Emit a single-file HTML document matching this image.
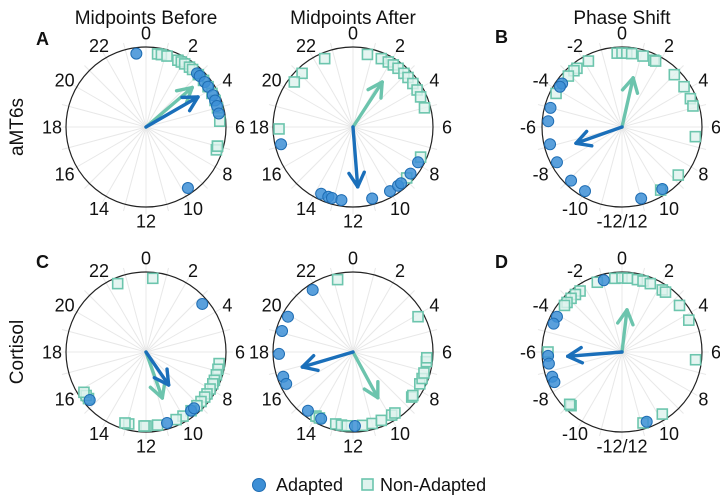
<!DOCTYPE html>
<html><head><meta charset="utf-8"><style>
body{margin:0;background:#fff;}
svg{display:block;font-family:"Liberation Sans",sans-serif;}
</style></head><body>
<svg id="chart" width="720" height="499" viewBox="0 0 720 499"></svg>
<script>
// ---- data (hours) ----
const beforeMT_adapted=[23.5,2.9,3.1,3.5,3.8,4.3,4.6,4.9,5.3,9.7];
const beforeMT_non=[0.6,0.8,1.1,1.7,1.9,2.1,2.4,2.6,3.0,3.4,3.8,4.2,4.6,5.0,5.7,7.0,7.2,7.0];
const afterMT_adapted=[17.1,13.7,13.3,13.1,12.6,11.0,10.0,9.5,9.3,8.6,7.9];
const afterMT_non=[22.5,21.1,20.5,17.9,0.75,1.5,1.9,2.2,2.5,2.9,3.2,3.6,4.0,4.4,5.0,7.6,8.9];
const shiftMT_adapted=[-3.6,-3.8,-5.0,-5.7,-6.9,-7.9,-9.1,-10.0,11.0,9.8];
const shiftMT_non=[-0.25,0,0.25,0.5,1.1,1.7,1.8,3.0,3.8,4.5,4.9,6.5,8.7,9.9,-1.8,-2.5,-2.7,-3.1,-4.2];
const beforeCO_adapted=[3.3,9.5,9.3,10.9,15.3];
const beforeCO_non=[22.5,0.35,6.6,6.9,7.2,7.5,7.7,8.0,8.3,8.5,8.8,9.1,9.5,10.0,10.4,11.4,12.0,12.1,12.9,13.1,15.4,15.6,15.8];
const afterCO_adapted=[21.8,19.9,19.1,17.9,16.7,16.3,14.5,13.7,11.9];
const afterCO_non=[23.2,14.0,13.8,12.9,12.6,12.3,11.5,11.0,10.5,9.9,9.7,8.5,8.4,7.7,7.4,7.1,6.5,6.3,4.1];
const shiftCO_adapted=[-0.95,-4.1,-4.5,-6.2,-6.6,-7.3,-7.6,10.7];
const shiftCO_non=[-1.3,-0.37,0,0.3,0.8,1.1,1.5,2.2,2.4,3.4,4.3,6.4,9.8,10.9,-2.3,-2.6,-2.9,-3.2,-3.4,-6.0,-9.1,-9.0];
// mean vectors: [angle hours, length fraction of radius]
const meanAdapted=[[4.0,0.75],[11.7,0.75],[-7.3,0.61],[9.7,0.5],[16.9,0.66],[-6.3,0.68]];
const meanNon=[[3.3,0.76],[2.2,0.67],[0.85,0.63],[10.7,0.61],[10.1,0.65],[0.45,0.53]];
const hourLabels=["0","2","4","6","8","10","12","14","16","18","20","22"];
const shiftLabels=["0","2","4","6","8","10","-12/12","-10","-8","-6","-4","-2"];
const colTitles=["Midpoints Before","Midpoints After","Phase Shift"];
const rowTitles=["aMT6s","Cortisol"];
const panelLetters=["A","B","C","D"];

const NS="http://www.w3.org/2000/svg";
const svg=document.getElementById('chart');
function mk(tag,attrs,parent){const e=document.createElementNS(NS,tag);for(const k in attrs)e.setAttribute(k,attrs[k]);(parent||svg).appendChild(e);return e;}
const R=80, PR=74;
const cxs=[146,353,622], cys=[127,352];
function pos(cx,cy,h,r){const a=h/24*2*Math.PI;return [cx+r*Math.sin(a),cy-r*Math.cos(a)];}

const panels=[
 [beforeMT_adapted,beforeMT_non,0,0,hourLabels],
 [afterMT_adapted,afterMT_non,1,0,hourLabels],
 [shiftMT_adapted,shiftMT_non,2,0,shiftLabels],
 [beforeCO_adapted,beforeCO_non,0,1,hourLabels],
 [afterCO_adapted,afterCO_non,1,1,hourLabels],
 [shiftCO_adapted,shiftCO_non,2,1,shiftLabels]];

panels.forEach((p,i)=>{
 const [ad,non,c,r,labels]=p; const cx=cxs[c], cy=cys[r];
 const g=mk('g',{});
 
 
 for(let k=0;k<24;k++){const [x,y]=pos(cx,cy,k,87);
  const l=mk('line',{x1:cx,y1:cy,x2:x,y2:y,stroke:'#e8e8e8','stroke-width':1},g);
  }
 const circ=mk('circle',{cx:cx,cy:cy,r:R,fill:'none',stroke:'#222','stroke-width':1.2},g);
 
 labels.forEach((t,k)=>{const [x,y]=pos(cx,cy,k*2,94);
  const tx=mk('text',{x:x,y:y+6.5,'text-anchor':'middle','font-size':18,fill:'#111'},g);tx.textContent=t;
  });
 non.forEach(h=>{const [x,y]=pos(cx,cy,h,PR);
  const s=mk('rect',{x:x-5,y:y-5,width:10,height:10,fill:'#dff3ee','fill-opacity':0.8,stroke:'#6cc5ad','stroke-width':1.6},g);
  });
 ad.forEach(h=>{const [x,y]=pos(cx,cy,h,PR);
  const s=mk('circle',{cx:x,cy:y,r:5.5,fill:'#3d8fd6','fill-opacity':0.85,stroke:'#1f6db3','stroke-width':1},g);
  });
 [[meanNon[i],'#6cc4ad','non-adapted-mean-arrow'],[meanAdapted[i],'#1a6fba','adapted-mean-arrow']].forEach(([m,col,nm])=>{
  const [x,y]=pos(cx,cy,m[0],m[1]*R); const a=m[0]/24*2*Math.PI;
  const ag=mk('g',{stroke:col,'stroke-width':3.4,fill:'none','stroke-linecap':'round'},g);
  
  mk('line',{x1:cx,y1:cy,x2:x,y2:y},ag);
  const hl=16;[-0.5,0.5].forEach(d=>{const b=a+Math.PI+d;
   mk('line',{x1:x,y1:y,x2:x+hl*Math.sin(b),y2:y-hl*Math.cos(b)},ag);});
 });
});
colTitles.forEach((t,k)=>{const tx=mk('text',{x:cxs[k],y:24,'text-anchor':'middle','font-size':19,fill:'#111'});tx.textContent=t;
 });
rowTitles.forEach((t,k)=>{const tx=mk('text',{x:0,y:0,'text-anchor':'middle','font-size':19,fill:'#111',transform:`translate(23,${cys[k]}) rotate(-90)`});tx.textContent=t;
 });
[[36,45],[495,43],[36,268],[495,268]].forEach(([x,y],k)=>{const tx=mk('text',{x:x,y:y,'font-size':18,'font-weight':'bold',fill:'#111'});tx.textContent=panelLetters[k];
 });
const lg=mk('g',{});
const lc=mk('circle',{cx:259,cy:485,r:6.5,fill:'#3d8fd6',stroke:'#1f6db3','stroke-width':1},lg);

const lt1=mk('text',{x:276,y:491,'font-size':18,fill:'#111'},lg);lt1.textContent='Adapted';

const ls=mk('rect',{x:362,y:479,width:11,height:11,fill:'#dff3ee',stroke:'#6cc5ad','stroke-width':1.6},lg);

const lt2=mk('text',{x:380,y:491,'font-size':18,fill:'#111'},lg);lt2.textContent='Non-Adapted';

</script>
</body></html>
